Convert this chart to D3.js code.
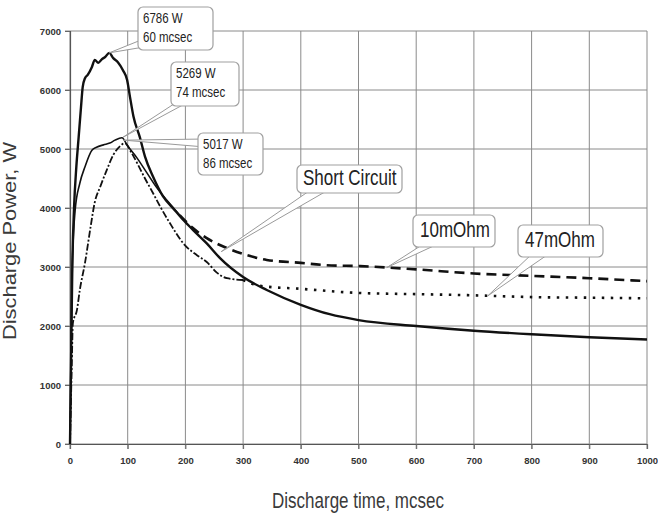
<!DOCTYPE html>
<html>
<head>
<meta charset="utf-8">
<script src="https://cdn.jsdelivr.net/npm/d3@7"></script>
<style>
html,body{margin:0;padding:0;background:#fff;}
svg{display:block;font-family:"Liberation Sans",Arial,sans-serif;}
</style>
</head>
<body>
<svg id="chart" width="658" height="514"></svg>
<script>
// ---- data ----
const xTicks = [0,100,200,300,400,500,600,700,800,900,1000];
const yTicks = [0,1000,2000,3000,4000,5000,6000,7000];

const scTime  = [0,2,4,7,11,15,19,22,26,31,38,43,49,55,61,68,75,83,92,99,104,110,121,130,144,161,180,196,213,237,260,300,341,400,450,500,600,700,800,900,1000];
const scPower = [0,1500,3000,4000,4700,5200,5700,6050,6200,6260,6390,6510,6460,6520,6560,6630,6540,6470,6330,6170,5880,5550,5200,4870,4530,4200,3980,3800,3630,3400,3150,2830,2610,2360,2200,2100,2000,1920,1860,1810,1770];

const r10Time  = [0,2,4,9,17,26,38,46,58,69,78,90,100,116,133,150,168,190,213,237,272,307,341,400,445,503,600,700,800,900,1000];
const r10Power = [0,1800,3000,3970,4420,4700,4980,5030,5070,5100,5150,5190,5050,4850,4600,4350,4130,3880,3660,3490,3320,3200,3120,3070,3030,3015,2960,2890,2850,2810,2760];

const r47Time  = [0,3,5,12,17,26,36,43,52,64,75,87,95,107,118,130,144,156,173,199,220,237,255,272,300,330,400,500,600,700,800,900,1000];
const r47Power = [0,1300,2050,2270,2610,3070,3700,4100,4350,4650,4900,5050,5100,4930,4730,4500,4250,4030,3745,3370,3200,3085,2900,2810,2780,2680,2630,2560,2540,2520,2490,2480,2470];

const peakLabels = [["6786 W","60 mcsec"],["5269 W","74 mcsec"],["5017 W","86 mcsec"]];
const seriesNames = ["Short Circuit","10mOhm","47mOhm"];

// ---- layout ----
const svg = d3.select("#chart");
const m = {left:70, top:31, right:11, bottom:70};
const W = 658 - m.left - m.right, H = 514 - m.top - m.bottom;
const x = d3.scaleLinear().domain([0,1000]).range([m.left, m.left+W]);
const y = d3.scaleLinear().domain([0,7000]).range([m.top+H, m.top]);

// grid
const g = svg.append("g");
g.selectAll("line.vg").data(xTicks).join("line")
  .attr("x1",d=>x(d)).attr("x2",d=>x(d)).attr("y1",y(7000)).attr("y2",y(0)+5)
  .attr("stroke","#8a8a8a").attr("stroke-width",1);
g.selectAll("line.hg").data(yTicks).join("line")
  .attr("x1",x(0)-5).attr("x2",x(1000)).attr("y1",d=>y(d)).attr("y2",d=>y(d))
  .attr("stroke","#8a8a8a").attr("stroke-width",1);

// axes (library axes for labels)
const fmt = d3.format("d");
const xAxis = svg.append("g").attr("transform",`translate(0,${y(0)})`)
  .call(d3.axisBottom(x).tickValues(xTicks).tickFormat(fmt).tickSize(5).tickPadding(8));
const yAxis = svg.append("g").attr("transform",`translate(${x(0)},0)`)
  .call(d3.axisLeft(y).tickValues(yTicks).tickFormat(fmt).tickSize(5).tickPadding(4));
[xAxis,yAxis].forEach(a=>{
  a.select(".domain").attr("stroke","#555").attr("stroke-width",1.2);
  a.selectAll(".tick line").attr("stroke","#666");
  a.selectAll("text").attr("font-family","'Liberation Sans',Arial,sans-serif")
    .attr("font-size",9.5).attr("fill","#333").attr("font-weight","bold");
});
xAxis.selectAll("text").attr("dy","0.75em");

// axis titles
svg.append("text").attr("transform","translate(358,508) scale(1,1.25)")
  .attr("text-anchor","middle").attr("font-size",17).attr("fill","#3a3a3a")
  .text("Discharge time, mcsec");
svg.append("text").attr("transform","translate(15.5,241) scale(1,1.25) rotate(-90)")
  .attr("text-anchor","middle").attr("font-size",17.5).attr("fill","#3a3a3a")
  .text("Discharge Power, W");

// ---- lines ----
const mk = (t,p) => t.map((d,i)=>({t:d,p:p[i]}));
const sc = mk(scTime, scPower), r10 = mk(r10Time, r10Power), r47 = mk(r47Time, r47Power);
const line = d3.line().x(d=>x(d.t)).y(d=>y(d.p)).curve(d3.curveMonotoneX);
const lines = svg.append("g").attr("fill","none").attr("stroke","#111")
  .attr("stroke-linejoin","round");

// 47 mOhm: dash-dot early, dotted later
lines.append("path").attr("d",line(r47.filter(d=>d.t<=300)))
  .attr("stroke-width",1.8).attr("stroke-dasharray","7,2,2,2");
lines.append("path").attr("d",line(r47.filter(d=>d.t>=300)))
  .attr("stroke-width",2.6).attr("stroke-dasharray","2.5,6.5");
// 10 mOhm: thin solid early, long dash later
lines.append("path").attr("d",line(r10.filter(d=>d.t<=190)))
  .attr("stroke-width",1.6);
lines.append("path").attr("d",line(r10.filter(d=>d.t>=190)))
  .attr("stroke-width",2.6).attr("stroke-dasharray","10,6");
// short circuit: solid
lines.append("path").attr("d",line(sc)).attr("stroke-width",2.4);

// ---- callouts ----
function callout(box, base, target, texts, fs){
  const c = svg.append("g");
  c.append("polygon")
    .attr("points",[[base[0][0],base[0][1]],[base[1][0],base[1][1]],[target[0],target[1]]].map(p=>p.join(",")).join(" "))
    .attr("fill","#fff").attr("stroke","#9a9a9a").attr("stroke-width",1);
  c.append("rect").attr("x",box[0]).attr("y",box[1]).attr("width",box[2]).attr("height",box[3])
    .attr("rx",5).attr("fill","#fff").attr("stroke","#a0a0a0").attr("stroke-width",1.2);
  texts.forEach(t=>{
    c.append("text").attr("transform",`translate(${t[1]},${t[2]}) scale(1,1.25)`)
      .attr("font-size",fs).attr("fill","#222").text(t[0]);
  });
}
// peak callouts
const peaks = [
  {box:[138,7,75,43], base:[[146,38],[150,46]], target:[x(68),y(6630)]},
  {box:[171,62,68,44], base:[[180,100],[192,100]], target:[x(92),y(5200)]},
  {box:[198,133,65,42], base:[[205,139],[205,147]], target:[x(93),y(5150)]}
];
peaks.forEach((p,i)=>{
  callout(p.box,p.base,p.target,[[peakLabels[i][0],p.box[0]+5,p.box[1]+16],[peakLabels[i][1],p.box[0]+5,p.box[1]+35]],11.5);
});
// series callouts
const sCall = [
  {box:[297,165,105,28], base:[[312,189],[330,189]], target:[x(262),y(3260)], tx:303, ty:185},
  {box:[413,215,82,32], base:[[425,243],[440,243]], target:[x(549),y(2990)], tx:420, ty:237},
  {box:[518,225,85,32], base:[[533,253],[550,253]], target:[x(724),y(2510)], tx:525, ty:247}
];
sCall.forEach((s,i)=>{
  callout(s.box,s.base,s.target,[[seriesNames[i],s.tx,s.ty]],17);
});
</script>
</body>
</html>
